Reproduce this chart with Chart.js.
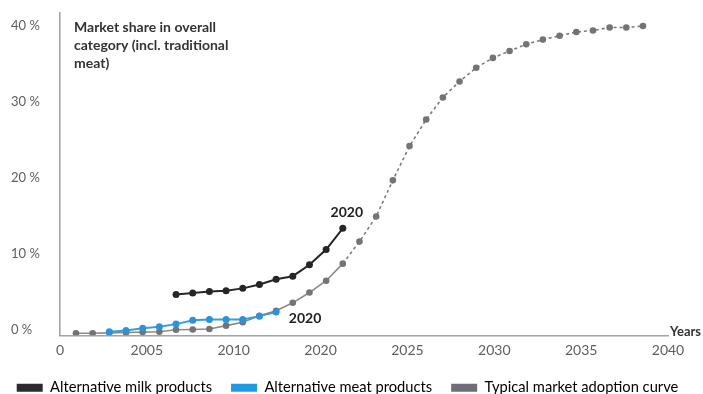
<!DOCTYPE html>
<html lang="en">
<head>
<meta charset="UTF-8" />
<title>Market share of alternative products</title>
<script src="https://cdn.jsdelivr.net/npm/chart.js"></script>
<style>
  html, body { margin: 0; padding: 0; background: #fff; }
  #wrap { width: 703px; height: 394px; position: relative; }
</style>
</head>
<body>
<div id="wrap"><canvas id="shareChart"></canvas></div>

<script>
  // tick labels along the bottom (printed as they appear on the axis)
  const xTickLabels = ['0', '2005', '2010', '2020', '2025', '2030', '2035', '2040'];
  const yTicks = [0, 10, 20, 30, 40];

  const seriesNames = ['Alternative milk products', 'Alternative meat products', 'Typical market adoption curve'];

  // market share in %, one value per yearly slot
  const milkShare = [5.1, 5.3, 5.5, 5.6, 5.9, 6.4, 7.1, 7.5, 9.0, 11.0, 13.8];
  const meatShare = [0.2, 0.35, 0.65, 0.85, 1.2, 1.7, 1.8, 1.8, 1.8, 2.25, 2.8];
  const curveShare = [0, 0, 0.05, 0.1, 0.15, 0.2, 0.45, 0.5, 0.55, 1.0, 1.45, 2.3, 2.95, 4.0,
    5.35, 6.9, 9.15, 12.05, 15.35, 20.1, 24.6, 28.1, 31.0, 33.1, 34.9, 36.2, 37.1, 38.0,
    38.6, 39.1, 39.6, 39.8, 40.2, 40.2, 40.4];

  // first yearly slot of each series
  const milkStart = 6;
  const meatStart = 2;
  const curveStart = 0;
  // curve is drawn dotted from this slot on (forecast)
  const forecastFrom = 16;

  const endLabel = '2020';

  // slot -> x position on the axis (axis runs 0..35, one label every 5)
  const SLOT_START = 0.92;
  const SLOT_STEP = 0.96;
  const toPoints = (vals, start) => vals.map((v, i) => ({ x: SLOT_START + (start + i) * SLOT_STEP, y: v }));

  const FONT = 'Lato, "Open Sans", sans-serif';
  const legendColors = ['#2b2b2f', '#1f9be6', '#6e6e78'];

  const textPlugin = {
    id: 'extraText',
    afterDraw(chart) {
      const c = chart.ctx;
      const area = chart.chartArea;
      c.save();
      c.fillStyle = '#333';
      c.font = 'bold 14px ' + FONT;
      c.textAlign = 'left';
      c.textBaseline = 'middle';
      ['Market share in overall', 'category (incl. traditional', 'meat)'].forEach((t, i) => {
        c.fillText(t, 74, 27 + i * 18);
      });
      c.font = 'bold 13px ' + FONT;
      c.fillText('Years', area.right + 2, area.bottom - 3);

      // "2020" next to the last point of milk and meat lines
      c.fillStyle = '#222';
      c.font = 'bold 14px ' + FONT;
      c.textAlign = 'center';
      const milkPts = chart.getDatasetMeta(0).data;
      const m = milkPts[milkPts.length - 1];
      c.fillText(endLabel, m.x + 4, m.y - 16);
      const meatPts = chart.getDatasetMeta(1).data;
      const b = meatPts[meatPts.length - 1];
      c.fillText(endLabel, b.x + 29, b.y + 7);
      c.restore();
    }
  };

  const ctx = document.getElementById('shareChart').getContext('2d');
  new Chart(ctx, {
    type: 'line',
    data: {
      datasets: [{
        label: seriesNames[0],
        data: toPoints(milkShare, milkStart),
        borderColor: '#262626',
        backgroundColor: legendColors[0],
        pointBackgroundColor: '#262626',
        borderWidth: 2,
        pointRadius: 3.5,
        pointBorderWidth: 0,
        tension: 0
      }, {
        label: seriesNames[1],
        data: toPoints(meatShare, meatStart),
        borderColor: '#3a9ce0',
        backgroundColor: legendColors[1],
        pointBackgroundColor: '#2d92dc',
        borderWidth: 2,
        pointRadius: 3.5,
        pointBorderWidth: 0,
        tension: 0
      }, {
        label: seriesNames[2],
        data: toPoints(curveShare, curveStart),
        borderColor: '#8a8a8a',
        backgroundColor: legendColors[2],
        pointBackgroundColor: '#747474',
        borderWidth: 1.6,
        pointRadius: 3.3,
        pointBorderWidth: 0,
        tension: 0,
        segment: {
          borderDash: s => (s.p0DataIndex >= forecastFrom ? [3, 3] : undefined),
          borderColor: s => (s.p0DataIndex >= forecastFrom ? '#7a7a7a' : undefined)
        }
      }]
    },
    options: {
      responsive: true,
      maintainAspectRatio: false,
      devicePixelRatio: 1,
      animation: false,
      // negative side padding gives the legend room for one row
      layout: { padding: { left: -19, top: 13, right: -11, bottom: -11 } },
      scales: {
        x: {
          type: 'linear',
          min: 0,
          max: 35,
          afterBuildTicks: axis => { axis.ticks = xTickLabels.map((_, i) => ({ value: i * 5 })); },
          afterFit: scale => { scale.height = 26; },
          grid: { display: false, drawTicks: false },
          border: { color: '#a3a3a3', width: 1.6 },
          ticks: {
            autoSkip: false,
            maxRotation: 0,
            padding: 7,
            color: '#5e5e5e',
            font: { family: FONT, size: 14 },
            callback: (v, i) => xTickLabels[i]
          }
        },
        y: {
          min: -0.27,
          max: 42.1,
          afterBuildTicks: axis => { axis.ticks = yTicks.map(v => ({ value: v })); },
          afterFit: scale => { scale.width = 79; },
          grid: { display: false, drawTicks: false },
          border: { color: '#a3a3a3', width: 1.6 },
          ticks: {
            mirror: true,
            crossAlign: 'near',
            padding: -49,
            labelOffset: -3.5,
            color: '#5e5e5e',
            font: { family: FONT, size: 13 },
            callback: v => v + ' %'
          }
        },
        // empty strip on the right, leaves space for the "Years" caption
        yRight: {
          position: 'right',
          afterFit: scale => { scale.width = 46; },
          grid: { display: false, drawTicks: false },
          border: { display: false },
          ticks: { display: false }
        }
      },
      plugins: {
        tooltip: { enabled: false },
        legend: {
          position: 'bottom',
          labels: {
            boxWidth: 26,
            boxHeight: 8,
            padding: 19,
            color: '#333',
            font: { family: FONT, size: 14.7 },
            generateLabels: chart => chart.data.datasets.map((ds, i) => ({
              text: ds.label,
              fillStyle: legendColors[i],
              strokeStyle: legendColors[i],
              lineWidth: 0,
              lineDash: [],
              hidden: false,
              datasetIndex: i
            }))
          }
        }
      }
    },
    plugins: [textPlugin]
  });
</script>
</body>
</html>
